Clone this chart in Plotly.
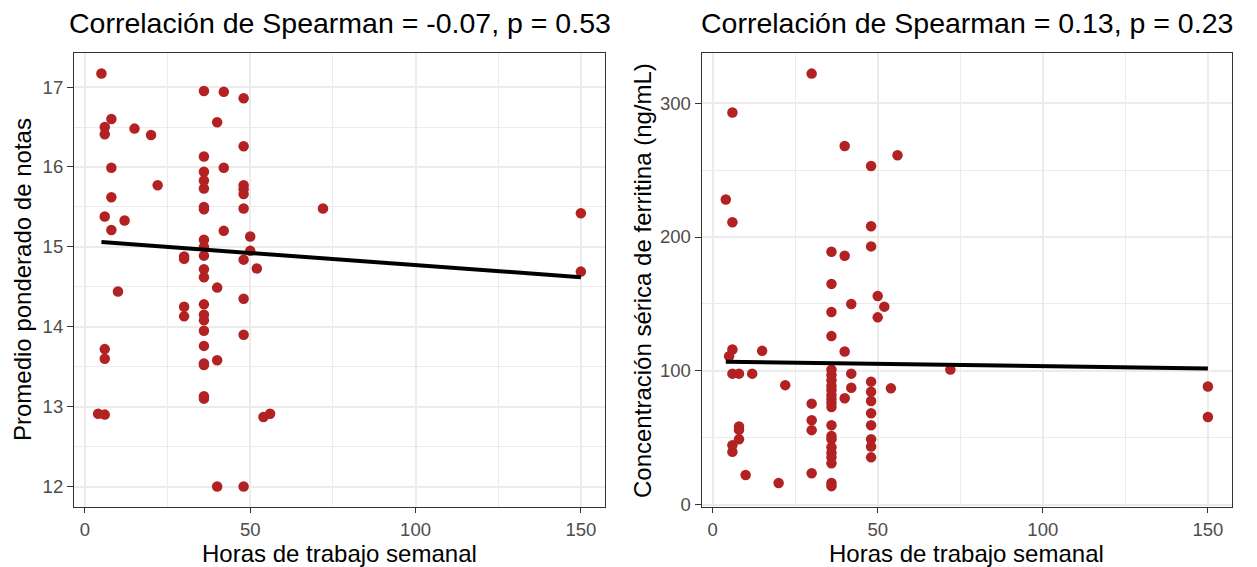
import plotly.graph_objects as go

# ---- Data: left panel (horas vs promedio ponderado) ----
horas_izq = [5, 36, 42, 48, 8, 6, 6, 15, 20, 40, 48, 36, 8, 42, 36, 36, 36, 22, 48, 48,
             48, 8, 36, 36, 48, 72, 6, 12, 8, 42, 50, 36, 36, 36, 50, 30, 30, 48, 52, 36,
             36, 40, 10, 48, 36, 30, 30, 36, 36, 36, 48, 36, 6, 6, 40, 36, 36, 36, 36, 4,
             6, 54, 56, 40, 48, 150, 150]
notas = [17.17, 16.95, 16.94, 16.86, 16.60, 16.50, 16.41, 16.48, 16.40, 16.56, 16.26, 16.13,
         15.99, 15.99, 15.94, 15.83, 15.73, 15.77, 15.77, 15.72, 15.66, 15.62, 15.50, 15.47,
         15.48, 15.48, 15.38, 15.33, 15.21, 15.20, 15.13, 15.09, 15.00, 14.89, 14.95, 14.88,
         14.85, 14.84, 14.73, 14.72, 14.62, 14.49, 14.44, 14.35, 14.28, 14.25, 14.13, 14.15,
         14.08, 13.95, 13.90, 13.76, 13.72, 13.60, 13.58, 13.54, 13.52, 13.13, 13.10, 12.91,
         12.90, 12.87, 12.91, 12.00, 12.00, 15.42, 14.69]
ajuste_izq_x = [5, 150]
ajuste_izq_y = [15.06, 14.62]

# ---- Data: right panel (horas vs ferritina) ----
horas_der = [30, 6, 40, 56, 48, 4, 6, 48, 48, 36, 40, 36, 50, 42, 52, 36, 50, 36,
             6, 15, 40, 5, 6, 8, 12, 42, 72,
             36, 36, 36, 36, 36, 36, 36, 36, 36,
             22, 48, 48, 48, 54, 42, 40, 30, 48, 30, 30, 8, 8, 8, 6, 6,
             36, 36, 36, 36, 36, 36, 36, 36, 36,
             48, 48, 48, 48, 10, 20, 30, 150, 150]
ferritina = [322, 293, 268, 261, 253, 228, 211, 208, 193, 189, 186, 165, 156, 150, 148, 144, 140, 126,
             116, 115, 114.5, 111, 98, 98, 98, 98, 101,
             101, 97, 93, 89, 86, 82, 79, 76, 73,
             89.4, 92, 84.5, 77.6, 87, 87.5, 79.6, 75.6, 68.4, 63.2, 55.8, 58.5, 56, 49, 44.6, 39.6,
             59.5, 51.5, 49, 43, 39, 35.5, 31, 16.4, 14,
             59.5, 49, 43.6, 35.5, 22.3, 16.4, 23.6, 88.4, 65.6]
ajuste_der_x = [4, 150]
ajuste_der_y = [106.8, 101.9]

titulo_izq = "Correlación de Spearman = -0.07, p = 0.53"
titulo_der = "Correlación de Spearman = 0.13, p = 0.23"
xlabel = "Horas de trabajo semanal"
ylabel_izq = "Promedio ponderado de notas"
ylabel_der = "Concentración sérica de ferritina (ng/mL)"

W, H = 1257, 567
FONT = "Liberation Sans, Arial, Helvetica, sans-serif"
PT_COLOR = "#B22222"

fig = go.Figure()
fig.add_trace(go.Scatter(x=horas_izq, y=notas, mode="markers", xaxis="x", yaxis="y",
                         marker=dict(color=PT_COLOR, size=10.5, line=dict(width=0)),
                         showlegend=False, hoverinfo="x+y"))
fig.add_trace(go.Scatter(x=ajuste_izq_x, y=ajuste_izq_y, mode="lines", xaxis="x", yaxis="y",
                         line=dict(color="black", width=4), showlegend=False))
fig.add_trace(go.Scatter(x=horas_der, y=ferritina, mode="markers", xaxis="x2", yaxis="y2",
                         marker=dict(color=PT_COLOR, size=10.5, line=dict(width=0)),
                         showlegend=False, hoverinfo="x+y"))
fig.add_trace(go.Scatter(x=ajuste_der_x, y=ajuste_der_y, mode="lines", xaxis="x2", yaxis="y2",
                         line=dict(color="black", width=4), showlegend=False))

# panel geometry (pixels)
L1, R1 = 74, 605
L2, R2 = 701.7, 1232
TOP, BOT = 52.7, 507.3

def ax_common(tlen):
    return dict(showline=True, mirror=True, linecolor="#333333", linewidth=1.2,
                ticks="outside", ticklen=tlen, tickwidth=1.2, tickcolor="#333333",
                tickfont=dict(family=FONT, size=18.5, color="#4D4D4D"),
                showgrid=True, gridcolor="#EBEBEB", gridwidth=1.6,
                zeroline=False, automargin=False, fixedrange=True)

fig.update_layout(
    width=W, height=H,
    margin=dict(l=0, r=0, t=0, b=0),
    paper_bgcolor="white", plot_bgcolor="white",
    font=dict(family=FONT, color="black"),
    xaxis=dict(**ax_common(5), domain=[L1 / W, R1 / W], range=[-3.3, 157.3],
               tickvals=[0, 50, 100, 150], anchor="y",
               minor=dict(dtick=25, tick0=0, showgrid=True, gridcolor="#EBEBEB", gridwidth=0.8)),
    yaxis=dict(**ax_common(6), domain=[1 - BOT / H, 1 - TOP / H], range=[11.74, 17.43],
               tickvals=[12, 13, 14, 15, 16, 17], anchor="x",
               minor=dict(dtick=0.5, tick0=0, showgrid=True, gridcolor="#EBEBEB", gridwidth=0.8)),
    xaxis2=dict(**ax_common(5), domain=[L2 / W, R2 / W], range=[-3.3, 157.3],
                tickvals=[0, 50, 100, 150], anchor="y2",
                minor=dict(dtick=25, tick0=0, showgrid=True, gridcolor="#EBEBEB", gridwidth=0.8)),
    yaxis2=dict(**ax_common(6), domain=[1 - BOT / H, 1 - TOP / H], range=[-1.8, 337.6],
                tickvals=[0, 100, 200, 300], anchor="x2",
                minor=dict(dtick=50, tick0=0, showgrid=True, gridcolor="#EBEBEB", gridwidth=0.8)),
)

ann = []
for cx, t in [((L1 + R1) / 2, titulo_izq), ((L2 + R2) / 2, titulo_der)]:
    ann.append(dict(text=t, x=cx / W, y=1 - 23 / H, xref="paper", yref="paper",
                    xanchor="center", yanchor="middle", showarrow=False,
                    font=dict(family=FONT, size=28.5, color="black")))
for cx in [(L1 + R1) / 2, (L2 + R2) / 2]:
    ann.append(dict(text=xlabel, x=cx / W, y=1 - 553 / H, xref="paper", yref="paper",
                    xanchor="center", yanchor="middle", showarrow=False,
                    font=dict(family=FONT, size=24, color="black")))
for cx, lab in [(22, ylabel_izq), (642, ylabel_der)]:
    ann.append(dict(text=lab, x=cx / W, y=1 - (TOP + BOT) / 2 / H, xref="paper", yref="paper",
                    xanchor="center", yanchor="middle", showarrow=False, textangle=-90,
                    font=dict(family=FONT, size=24, color="black")))
fig.update_layout(annotations=ann)

fig.write_html("out.html")
